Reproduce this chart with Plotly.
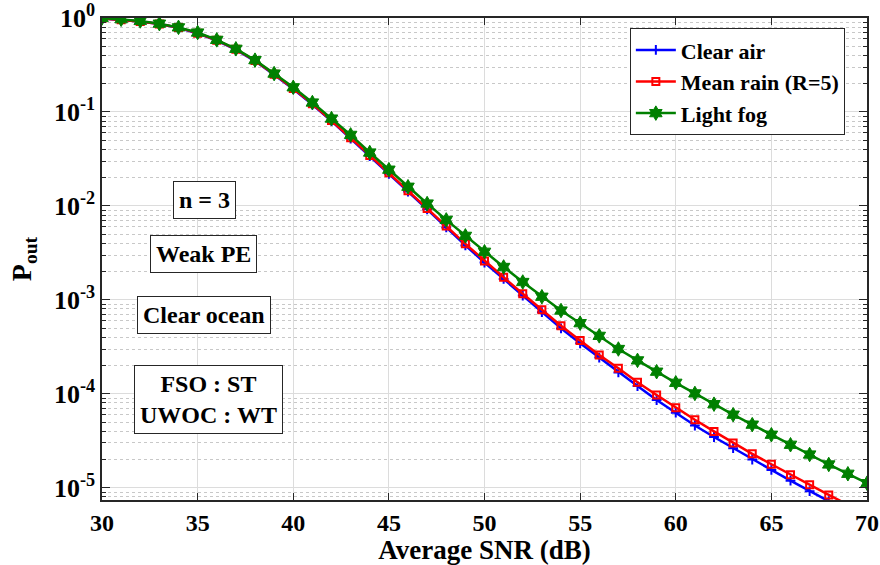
import plotly.graph_objects as go

snr = list(range(30, 71))

clear_air = [0.99, 0.96, 0.92, 0.862, 0.785, 0.685, 0.575, 0.46, 0.348, 0.249,
             0.175, 0.12, 0.08, 0.052, 0.034, 0.022, 0.0142, 0.0092, 0.0059, 0.0038,
             0.0025, 0.00167, 0.00111, 0.00074, 0.000497, 0.000345, 0.000243, 0.000169, 0.000121, 8.6e-5,
             6.3e-5, 4.6e-5, 3.47e-5, 2.64e-5, 2.0e-5, 1.55e-5, 1.19e-5, 9.2e-6, 7.2e-6, 5.6e-6,
             4.4e-6]

mean_rain = [0.99, 0.96, 0.92, 0.865, 0.79, 0.69, 0.58, 0.465, 0.352, 0.252,
             0.178, 0.122, 0.081, 0.053, 0.0345, 0.0225, 0.0145, 0.0094, 0.0061, 0.00395,
             0.0026, 0.00174, 0.00116, 0.000785, 0.00053, 0.000369, 0.000259, 0.000187, 0.000133, 9.7e-5,
             7.1e-5, 5.3e-5, 3.98e-5, 3.0e-5, 2.3e-5, 1.78e-5, 1.38e-5, 1.08e-5, 8.4e-6, 6.6e-6,
             5.2e-6]

light_fog = [1.0, 0.97, 0.93, 0.87, 0.795, 0.70, 0.585, 0.47, 0.356, 0.256,
             0.183, 0.126, 0.085, 0.057, 0.037, 0.0243, 0.016, 0.0106, 0.0071, 0.0048,
             0.00325, 0.00224, 0.00155, 0.00108, 0.00077, 0.000565, 0.000414, 0.0003, 0.000227, 0.000172,
             0.000131, 0.000101, 7.76e-5, 6.0e-5, 4.7e-5, 3.67e-5, 2.87e-5, 2.26e-5, 1.77e-5, 1.41e-5,
             1.12e-5]

series_names = ["Clear air", "Mean rain (R=5)", "Light fog"]
y_tickvals = [1, 1e-1, 1e-2, 1e-3, 1e-4, 1e-5]
y_ticktext = ["10<sup>0</sup>", "10<sup>-1</sup>", "10<sup>-2</sup>", "10<sup>-3</sup>",
              "10<sup>-4</sup>", "10<sup>-5</sup>"]
x_tickvals = [30, 35, 40, 45, 50, 55, 60, 65, 70]

FONT = "Liberation Serif"

fig = go.Figure()
fig.add_trace(go.Scatter(
    x=snr, y=clear_air, name=series_names[0], mode="lines+markers",
    line=dict(color="#0000ff", width=2.5),
    marker=dict(symbol="cross-thin-open", size=7, line=dict(color="#0000ff", width=2)),
))
fig.add_trace(go.Scatter(
    x=snr, y=mean_rain, name=series_names[1], mode="lines+markers",
    line=dict(color="#ff0000", width=2.5),
    marker=dict(symbol="square-open", size=7, line=dict(color="#ff0000", width=2)),
))
fig.add_trace(go.Scatter(
    x=snr, y=light_fog, name=series_names[2], mode="lines+markers",
    line=dict(color="#008000", width=2.5),
    marker=dict(symbol="hexagram", size=11, color="#008000", line=dict(color="#008000", width=1)),
))

fig.update_layout(
    width=880, height=565,
    margin=dict(l=102, r=13, t=18, b=65),
    paper_bgcolor="white", plot_bgcolor="white",
    font=dict(family=FONT, color="black"),
    showlegend=True,
    legend=dict(
        x=0.69, y=0.979, xanchor="left", yanchor="top",
        bgcolor="white", bordercolor="#262626", borderwidth=1,
        font=dict(family=FONT, size=22, color="black", weight="bold"),
        tracegroupgap=0, itemwidth=40,
    ),
)

fig.update_xaxes(
    range=[30, 70], tickvals=x_tickvals, automargin=False,
    showline=True, linecolor="#262626", linewidth=1.5, mirror="ticks",
    ticks="inside", ticklen=7, tickcolor="#262626",
    showgrid=True, gridcolor="#dcdcdc", gridwidth=1,
    zeroline=False,
    tickfont=dict(family=FONT, size=24, color="black", weight="bold"),
    title=dict(text="Average SNR (dB)", standoff=2,
               font=dict(family=FONT, size=27, color="black", weight="bold")),
)

fig.update_yaxes(
    type="log", range=[-5.13, 0], automargin=False,
    tickvals=y_tickvals, ticktext=y_ticktext,
    showline=True, linecolor="#262626", linewidth=1.5, mirror="ticks",
    ticks="inside", ticklen=8, tickcolor="#262626",
    showgrid=True, gridcolor="#dcdcdc", gridwidth=1,
    zeroline=False,
    minor=dict(dtick="D1", ticks="inside", ticklen=4, tickcolor="#262626",
               showgrid=True, gridcolor="#c8c8c8", griddash="dot", gridwidth=1),
    tickfont=dict(family=FONT, size=26, color="black", weight="bold"),
    title=dict(text="P<sub>out</sub>", standoff=14,
               font=dict(family=FONT, size=28, color="black", weight="bold")),
)

ann_font = dict(family=FONT, size=24, color="black", weight="bold")
annotations = [
    ("n = 3", 0.1346, 0.622),
    ("Weak PE", 0.1333, 0.510),
    ("Clear ocean", 0.1333, 0.384),
    ("FSO : ST<br>UWOC : WT", 0.1386, 0.2095),
]
for text, ax, ay in annotations:
    fig.add_annotation(
        text=text, xref="paper", yref="paper", x=ax, y=ay,
        xanchor="center", yanchor="middle", showarrow=False,
        font=ann_font, bgcolor="white", bordercolor="#262626",
        borderwidth=1, borderpad=5,
    )

fig.write_html("out.html")
